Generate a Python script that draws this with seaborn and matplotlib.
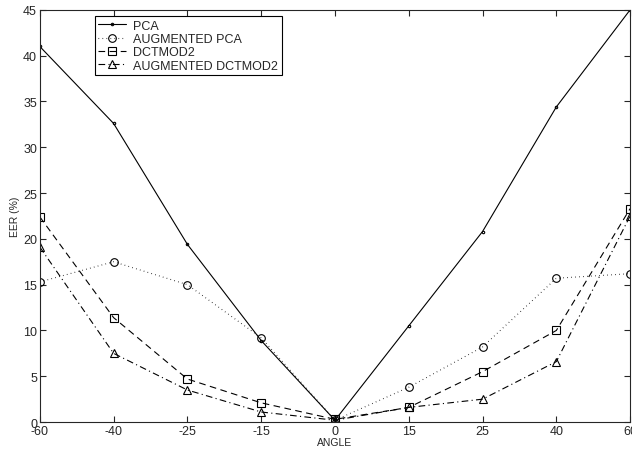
import numpy as np
import pandas as pd
import seaborn as sns
import matplotlib.pyplot as plt

sns.set_style('ticks')
plt.rcParams['font.family'] = ['Liberation Sans', 'DejaVu Sans']

angles = ['-60', '-40', '-25', '-15', '0', '15', '25', '40', '60']
pca = [41.0, 32.6, 19.4, 8.9, 0.2, 10.5, 20.8, 34.4, 45.0]
aug_pca = [15.3, 17.5, 15.0, 9.2, 0.2, 3.8, 8.2, 15.7, 16.2]
dctmod2 = [22.4, 11.4, 4.7, 2.1, 0.3, 1.6, 5.5, 10.0, 23.3]
aug_dctmod2 = [19.1, 7.5, 3.5, 1.1, 0.2, 1.6, 2.5, 6.6, 22.5]

pos = np.arange(len(angles))
# name, values, dash pattern, marker, marker size
series = [
    ('PCA', pca, None, '.', 3.5),
    ('AUGMENTED PCA', aug_pca, (0.6, 3.0), 'o', 5.5),
    ('DCTMOD2', dctmod2, (6, 4), 's', 5.5),
    ('AUGMENTED DCTMOD2', aug_dctmod2, (6, 3, 1, 3), '^', 6),
]

fig = plt.figure(figsize=(6.32, 4.52), dpi=100)
ax = fig.add_axes([0.063, 0.064, 0.934, 0.912])

for name, vals, dash, mk, ms in series:
    df = pd.DataFrame({'pos': pos, 'eer': vals})
    sns.lineplot(data=df, x='pos', y='eer', ax=ax, color='black',
                 linewidth=0.8, marker=mk, markersize=ms, markerfacecolor='none',
                 markeredgecolor='black', markeredgewidth=0.8, label=name)
    if dash is not None:
        ax.lines[-1].set_dashes(dash)

ax.set_xlim(0, len(angles) - 1)
ax.set_ylim(0, 45)
ax.set_xticks(pos)
ax.set_xticklabels(angles)
ax.set_yticks(range(0, 46, 5))
ax.tick_params(direction='in', top=True, right=True, labelsize=9, length=4, width=0.8, pad=2)
for s in ax.spines.values():
    s.set_linewidth(0.8)
    s.set_visible(True)
ax.set_xlabel('ANGLE', fontsize=7.5, labelpad=0)
ax.set_ylabel('EER (%)', fontsize=7.5, labelpad=2)

handles, labels = ax.get_legend_handles_labels()
for h, (_, _, dash, _, _) in zip(handles, series):
    if dash is not None:
        h.set_dashes(dash)
leg = ax.legend(handles, labels, loc='upper left', bbox_to_anchor=(0.093, 0.985), fontsize=9,
                frameon=True, fancybox=False, edgecolor='black', framealpha=1, borderpad=0.3,
                labelspacing=0.1, handlelength=2.2, handletextpad=0.6, borderaxespad=0)
leg.get_frame().set_linewidth(0.8)

plt.savefig('out.png', dpi=100)
